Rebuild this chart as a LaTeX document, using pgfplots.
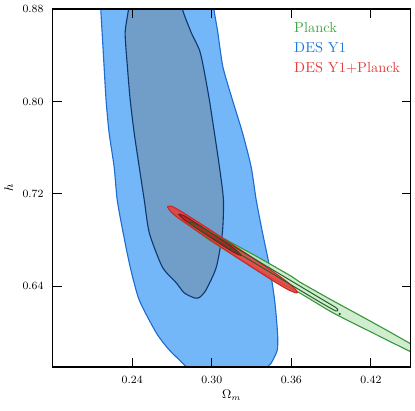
\documentclass[border=0pt]{standalone}
\usepackage{pgfplots}
\pgfplotsset{compat=1.18}
\definecolor{desout}{RGB}{116,183,248}
\definecolor{desoutline}{RGB}{28,108,210}
\definecolor{desin}{RGB}{112,158,200}
\definecolor{desinline}{RGB}{16,56,110}
\definecolor{plkout}{RGB}{200,234,200}
\definecolor{plkline}{RGB}{58,150,58}
\definecolor{plkin}{RGB}{35,95,35}
\definecolor{jointout}{RGB}{232,64,64}
\definecolor{jointline}{RGB}{205,40,40}
\definecolor{jointin}{RGB}{185,40,40}
\definecolor{jointinline}{RGB}{120,20,20}
\definecolor{plktext}{RGB}{65,165,65}
\definecolor{destext}{RGB}{30,120,220}
\definecolor{jointtext}{RGB}{230,60,60}
\begin{document}
\begin{tikzpicture}
\begin{axis}[
  scale only axis, width=258pt, height=258pt,
  xmin=0.18, xmax=0.45, ymin=0.57, ymax=0.88,
  xtick={0.24,0.30,0.36,0.42}, xticklabels={$0.24$,$0.30$,$0.36$,$0.42$},
  ytick={0.64,0.72,0.80,0.88}, yticklabels={$0.64$,$0.72$,$0.80$,$0.88$},
  tick align=inside, major tick length=6.5pt,
  tick style={black, line width=0.8pt},
  axis line style={line width=0.9pt},
  ticklabel style={font=\fontsize{8}{9}\selectfont},
  xticklabel style={yshift=-3pt},
  yticklabel style={xshift=-3pt},
  xlabel={$\Omega_m$}, ylabel={$h$},
  label style={font=\fontsize{9}{10}\selectfont},
  xlabel style={yshift=2pt},
  ylabel style={yshift=0pt},
  axis on top,
]
% DES Y1, 95%
\addplot[smooth, tension=0.4, fill=desout, draw=desoutline, line width=0.8pt] coordinates {
  (0.2158,0.8966) (0.2163,0.8801) (0.2181,0.8446) (0.2203,0.8013) (0.2226,0.7728)
  (0.2264,0.7433) (0.2287,0.7147) (0.2332,0.6862) (0.2385,0.6567) (0.2453,0.6281)
  (0.2582,0.5996) (0.2680,0.5848) (0.2808,0.5701) (0.2869,0.5589) (0.3375,0.5589)
  (0.3421,0.5701) (0.3449,0.5736) (0.3494,0.5848) (0.3496,0.5996) (0.3474,0.6281)
  (0.3436,0.6567) (0.3383,0.6862) (0.3335,0.7147) (0.3297,0.7433) (0.3232,0.7728)
  (0.3156,0.8013) (0.3084,0.8299) (0.3046,0.8594) (0.3016,0.8801) (0.3002,0.8966)
  (0.2158,0.8966)
};
% DES Y1, 68%
\addplot[smooth, tension=0.4, fill=desin, draw=desinline, line width=0.8pt] coordinates {
  (0.2370,0.8966) (0.2372,0.8801) (0.2347,0.8594) (0.2364,0.8299) (0.2385,0.8013)
  (0.2415,0.7728) (0.2453,0.7433) (0.2491,0.7147) (0.2529,0.6862) (0.2627,0.6567)
  (0.2733,0.6429) (0.2793,0.6342) (0.2869,0.6299) (0.2907,0.6303) (0.2957,0.6368)
  (0.3035,0.6567) (0.3080,0.6862) (0.3088,0.7147) (0.3058,0.7433) (0.3020,0.7728)
  (0.2982,0.8013) (0.2937,0.8299) (0.2907,0.8446) (0.2846,0.8594) (0.2778,0.8801)
  (0.2763,0.8966) (0.2370,0.8966)
};
% Planck, 95%
\addplot[smooth, tension=0.4, fill=plkout, fill opacity=0.85, draw=plkline, line width=0.8pt] coordinates {
  (0.2786,0.6991) (0.2831,0.6970) (0.2907,0.6931) (0.3096,0.6810) (0.3345,0.6654)
  (0.3602,0.6485) (0.3663,0.6437) (0.3889,0.6290) (0.4041,0.6195) (0.4192,0.6100)
  (0.4343,0.6004) (0.4502,0.5900) (0.4608,0.5831)
  (0.4608,0.5762) (0.4502,0.5831) (0.4343,0.5922) (0.4192,0.6009) (0.4041,0.6095)
  (0.3889,0.6186) (0.3663,0.6342) (0.3436,0.6481) (0.3209,0.6636) (0.2982,0.6801)
  (0.2869,0.6896) (0.2808,0.6948) (0.2786,0.6991)
};
% DES Y1 + Planck, 95%
\addplot[smooth, tension=0.4, fill=jointout, fill opacity=0.9, draw=jointline, line width=0.8pt] coordinates {
  (0.2665,0.7089) (0.2695,0.7093) (0.2755,0.7057) (0.2907,0.6948) (0.3080,0.6818)
  (0.3285,0.6664) (0.3474,0.6517) (0.3572,0.6434) (0.3625,0.6381) (0.3647,0.6346)
  (0.3625,0.6346) (0.3572,0.6373) (0.3474,0.6439) (0.3285,0.6578) (0.3080,0.6732)
  (0.2907,0.6865) (0.2755,0.6985) (0.2695,0.7041) (0.2665,0.7089)
};
% DES Y1 + Planck, 68%
\addplot[smooth, tension=0.4, fill=jointin, draw=jointinline, line width=0.6pt] coordinates {
  (0.2748,0.7026) (0.2793,0.7010) (0.2907,0.6928) (0.3058,0.6814) (0.3171,0.6724)
  (0.3224,0.6667) (0.3171,0.6689) (0.3058,0.6771) (0.2907,0.6885) (0.2793,0.6975)
  (0.2748,0.7026)
};
% Planck, 68%
\addplot[smooth, tension=0.4, draw=plkin, line width=0.7pt] coordinates {
  (0.2831,0.6957) (0.2907,0.6922) (0.3209,0.6714) (0.3511,0.6507) (0.3814,0.6299)
  (0.3935,0.6216) (0.3950,0.6195) (0.3935,0.6186) (0.3814,0.6264) (0.3511,0.6472)
  (0.3209,0.6680) (0.2907,0.6888) (0.2831,0.6948) (0.2831,0.6957)
};
\addplot[only marks, mark=*, mark size=0.6pt, plkin] coordinates {(0.3965,0.6160)};
\node[anchor=base west, inner sep=0pt, text=plktext, font=\fontsize{10.4}{12}\selectfont] at (rel axis cs:0.674,0.935) {Planck};
\node[anchor=base west, inner sep=0pt, text=destext, font=\fontsize{10.4}{12}\selectfont] at (rel axis cs:0.674,0.878) {DES Y1};
\node[anchor=base west, inner sep=0pt, text=jointtext, font=\fontsize{10.4}{12}\selectfont] at (rel axis cs:0.674,0.822) {DES Y1+Planck};
\coordinate (bbl) at ([xshift=-37.9pt,yshift=-31.5pt]rel axis cs:0,0);
\coordinate (btr) at ([xshift=3.1pt,yshift=6.5pt]rel axis cs:1,1);
\end{axis}
\pgfresetboundingbox
\path[use as bounding box] (bbl) rectangle (btr);
\end{tikzpicture}
\end{document}
